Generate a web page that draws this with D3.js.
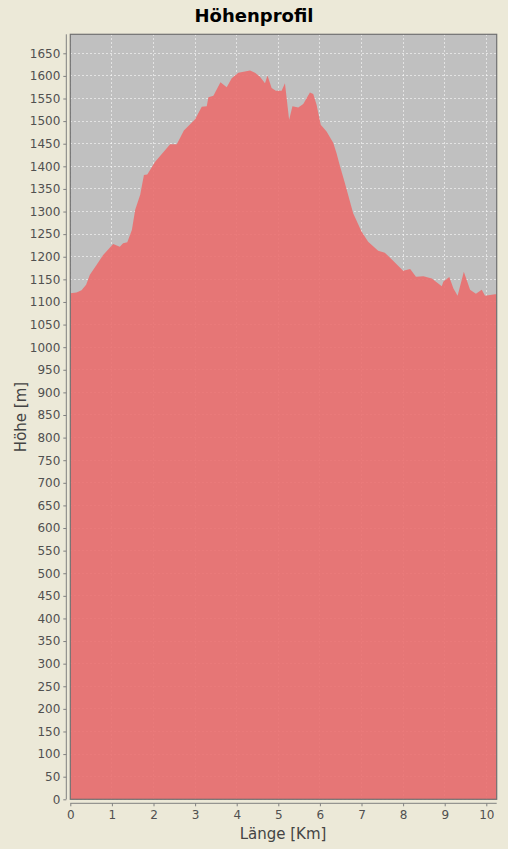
<!DOCTYPE html>
<html><head><meta charset="utf-8">
<script src="https://cdn.jsdelivr.net/npm/d3@7"></script>
<style>body{margin:0;background:#ECE9D8;}svg{display:block;}</style>
</head><body>
<script>
const distanceKm = [0,0.15,0.27,0.38,0.47,0.63,0.79,1.03,1.19,1.27,1.37,1.48,1.56,1.68,1.77,1.85,2.04,2.40,2.56,2.73,3.00,3.16,3.28,3.32,3.44,3.61,3.76,3.88,4.04,4.32,4.44,4.56,4.68,4.74,4.84,4.94,5.08,5.16,5.26,5.34,5.48,5.60,5.76,5.84,5.92,6.02,6.16,6.32,6.40,6.48,6.60,6.80,7.00,7.16,7.40,7.56,7.76,8.00,8.17,8.31,8.49,8.69,8.93,8.97,9.11,9.21,9.31,9.46,9.61,9.75,9.89,9.97,10.21,10.25];
const elevationM = [1119,1121,1126,1138,1160,1182,1204,1228,1222,1230,1232,1259,1304,1337,1381,1382,1410,1449,1449,1479,1504,1532,1533,1553,1556,1586,1575,1595,1607,1612,1607,1598,1584,1601,1573,1567,1567,1584,1503,1533,1530,1538,1563,1560,1536,1492,1477,1452,1429,1401,1363,1296,1256,1233,1213,1209,1191,1169,1173,1156,1157,1152,1135,1145,1155,1130,1114,1167,1127,1118,1127,1114,1117,1117];
const xTicks = [0,1,2,3,4,5,6,7,8,9,10];
const yTicks = d3.range(0,1651,50);
const title = "Höhenprofil", xLabel = "Länge [Km]", yLabel = "Höhe [m]";

const W=508,H=849;
const L=70.3,R=496.7,T=34.3,B=799.3;
const svg=d3.select("body").append("svg").attr("width",W).attr("height",H);
svg.append("rect").attr("width",W).attr("height",H).attr("fill","#ECE9D8");
const x=d3.scaleLinear().domain([0,10.25]).range([L,R]);
const y=d3.scaleLinear().domain([0,1692]).range([B,T]);
const font="DejaVu Sans, Verdana, sans-serif";

svg.append("rect").attr("x",L).attr("y",T).attr("width",R-L).attr("height",B-T).attr("fill","#C0C0C0");
const g=svg.append("g");
g.selectAll("line.h").data(yTicks).join("line").attr("x1",L).attr("x2",R)
 .attr("y1",d=>y(d)).attr("y2",d=>y(d)).attr("stroke","#ffffff").attr("stroke-opacity",0.55)
 .attr("stroke-dasharray","2,2").attr("shape-rendering","crispEdges");
g.selectAll("line.v").data(xTicks).join("line").attr("y1",T).attr("y2",B)
 .attr("x1",d=>x(d)).attr("x2",d=>x(d)).attr("stroke","#ffffff").attr("stroke-opacity",0.55)
 .attr("stroke-dasharray","2,2").attr("shape-rendering","crispEdges");
const data=distanceKm.map((d,i)=>[d,elevationM[i]]);
const area=d3.area().x(d=>x(d[0])).y0(y(0)).y1(d=>y(d[1]));
svg.append("path").datum(data).attr("d",area).attr("fill","#EA6E6E").attr("fill-opacity",0.9);
svg.append("rect").attr("x",L).attr("y",T).attr("width",R-L).attr("height",B-T)
 .attr("fill","none").attr("stroke","#707070").attr("stroke-width",1.2);

const xAxis=svg.append("g").attr("transform",`translate(0,${B+4})`)
 .call(d3.axisBottom(x).tickValues(xTicks).tickFormat(d3.format("d")).tickSize(3).tickPadding(4).tickSizeOuter(0));
const yAxis=svg.append("g").attr("transform",`translate(${L-4},0)`)
 .call(d3.axisLeft(y).tickValues(yTicks).tickFormat(d3.format("d")).tickSize(3).tickPadding(3).tickSizeOuter(0));
[xAxis,yAxis].forEach(a=>{
  a.select(".domain").attr("stroke","#808080");
  a.selectAll(".tick line").attr("stroke","#808080");
  a.selectAll("text").attr("fill","#505050").attr("font-family",font).attr("font-size",12);
});
xAxis.select(".domain").attr("d",`M${L},0H${R}`);
yAxis.select(".domain").attr("d",`M0,${T}V${B}`);

svg.append("text").attr("x",254).attr("y",22).attr("text-anchor","middle")
 .attr("font-family",font).attr("font-weight","bold").attr("font-size",18).attr("fill","#000").text(title);
svg.append("text").attr("x",283).attr("y",839).attr("text-anchor","middle")
 .attr("font-family",font).attr("font-size",15).attr("fill","#444").text(xLabel);
svg.append("text").attr("transform","translate(26,417) rotate(-90)").attr("text-anchor","middle")
 .attr("font-family",font).attr("font-size",15).attr("fill","#444").text(yLabel);
</script>
</body></html>
